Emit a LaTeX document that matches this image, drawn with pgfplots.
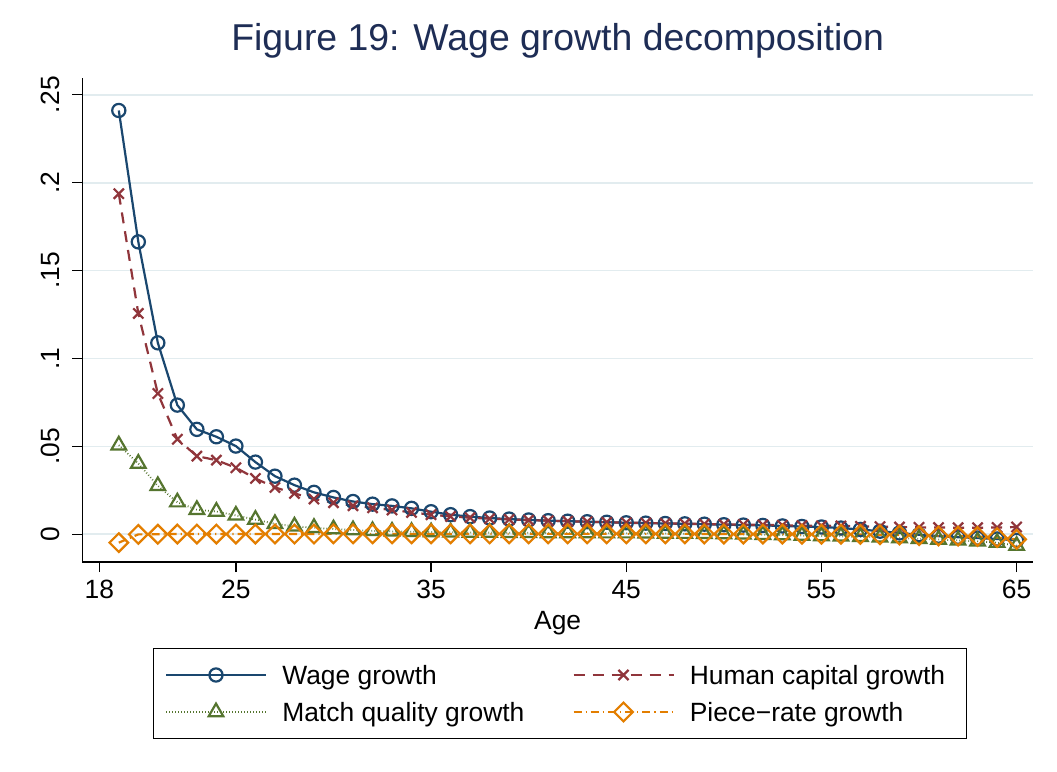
\documentclass[border=0pt]{standalone}
\usepackage{pgfplots}
\pgfplotsset{compat=1.18}
\usepackage{pgfplotstable}
\usepackage{fontspec}
\setmainfont{Liberation Sans}
\definecolor{snavy}{RGB}{26,71,111}
\definecolor{smaroon}{RGB}{144,53,59}
\definecolor{sgreen}{RGB}{85,117,47}
\definecolor{sorange}{RGB}{227,126,0}
\definecolor{stitle}{RGB}{30,45,85}
\definecolor{sgrid}{RGB}{226,236,239}
\pgfplotstableread{
age w h m p
19 0.2410 0.1937 0.0507 -0.0047
20 0.1663 0.1256 0.0403 0.0000
21 0.1089 0.0801 0.0276 0.0001
22 0.0735 0.0541 0.0183 0.0002
23 0.0597 0.0445 0.0140 0.0002
24 0.0555 0.0422 0.0130 0.0002
25 0.0502 0.0379 0.0108 0.0002
26 0.0411 0.0318 0.0084 0.0002
27 0.0331 0.0267 0.0060 0.0002
28 0.0280 0.0233 0.0046 0.0002
29 0.0239 0.0201 0.0038 0.0002
30 0.0210 0.0180 0.0030 0.0003
31 0.0187 0.0163 0.0025 0.0003
32 0.0172 0.0151 0.0020 0.0003
33 0.0162 0.0139 0.0017 0.0003
34 0.0148 0.0125 0.0015 0.0003
35 0.0129 0.0112 0.0013 0.0003
36 0.0112 0.0102 0.0012 0.0003
37 0.0101 0.0095 0.0011 0.0003
38 0.0093 0.0089 0.0010 0.0003
39 0.0087 0.0085 0.0009 0.0003
40 0.0082 0.0081 0.0009 0.0003
41 0.0078 0.0078 0.0008 0.0003
42 0.0075 0.0075 0.0008 0.0003
43 0.0072 0.0072 0.0008 0.0003
44 0.0069 0.0069 0.0007 0.0003
45 0.0066 0.0067 0.0007 0.0003
46 0.0064 0.0065 0.0006 0.0003
47 0.0062 0.0063 0.0005 0.0003
48 0.0060 0.0061 0.0004 0.0003
49 0.0058 0.0059 0.0003 0.0002
50 0.0055 0.0057 0.0002 0.0002
51 0.0053 0.0056 0.0000 0.0002
52 0.0051 0.0054 -0.0002 0.0002
53 0.0048 0.0052 -0.0004 0.0002
54 0.0045 0.0050 -0.0007 0.0001
55 0.0042 0.0049 -0.0009 0.0001
56 0.0036 0.0048 -0.0011 0.0001
57 0.0028 0.0046 -0.0014 0.0000
58 0.0018 0.0044 -0.0017 -0.0002
59 0.0008 0.0042 -0.0021 -0.0004
60 -0.0002 0.0040 -0.0025 -0.0007
61 -0.0010 0.0039 -0.0029 -0.0009
62 -0.0016 0.0038 -0.0034 -0.0010
63 -0.0021 0.0038 -0.0039 -0.0012
64 -0.0026 0.0039 -0.0047 -0.0018
65 -0.0034 0.0042 -0.0064 -0.0028
}\datatable
\begin{document}
\begin{tikzpicture}
\useasboundingbox (-41.15pt,-105pt) rectangle (487.35pt,281pt);
\fill[white] (-41.15pt,-105pt) rectangle (487.35pt,281pt);
\begin{axis}[
  at={(0pt,0pt)}, anchor=south west,
  scale only axis, width=475.35pt, height=241.85pt,
  xmin=17.13, xmax=65.84, ymin=-0.0157, ymax=0.2593,
  axis x line*=bottom, axis y line*=left,
  axis line style={line width=0.65pt, -, black},
  xtick={18,25,35,45,55,65}, xticklabels={18,25,35,45,55,65},
  ytick={0,0.05,0.1,0.15,0.2,0.25}, yticklabels={0,.05,.1,.15,.2,.25},
  tick align=outside, major tick length=5pt,
  tick style={line width=0.65pt, black},
  /pgf/number format/assume math mode=true,
  ymajorgrids, grid style={sgrid, line width=0.9pt},
  ticklabel style={font=\fontsize{13.2}{15}\selectfont},
  xticklabel style={anchor=base, inner sep=0pt, yshift=-13.15pt},
  yticklabel style={xshift=-6.5pt, rotate=90, anchor=base, inner sep=0pt},
  title={Figure 19: Wage growth decomposition},
  title style={at={(axis description cs:0.5,1.0323)}, anchor=base, inner sep=0pt,
    font=\fontsize{18.7}{22}\selectfont, text=stitle},
  xlabel={Age},
  xlabel style={at={(axis description cs:0.5,-0.1396)}, anchor=base, inner sep=0pt,
    font=\fontsize{13.2}{15}\selectfont},
  legend columns=2,
  legend cell align=left,
  legend image code/.code={\draw[mark repeat=2,mark phase=2] plot coordinates {(0pt,0pt) (25pt,0pt) (50pt,0pt)};},
  legend style={at={(axis description cs:0.5025,-0.1778)}, anchor=north, draw=black, line width=0.5pt,
    inner xsep=5.5pt, inner ysep=5.5pt, row sep=3pt,
    font=\fontsize{13.2}{15}\selectfont,
    nodes={inner sep=0pt, text height=12.5pt, text depth=3pt},
    /tikz/every odd column/.style={column sep=7.6pt},
    /tikz/every even column/.style={column sep=24pt}},
]
\addplot[snavy, line width=1.1pt, mark=o, mark size=3.3pt, mark options={solid, line width=1.1pt}]
  table[x=age,y=w]{\datatable};
\addlegendentry{Wage growth}
\addplot[smaroon, line width=1.1pt, dash pattern=on 5.5pt off 4pt, mark=x, mark size=3.6pt, mark options={solid, line width=1.1pt}]
  table[x=age,y=h]{\datatable};
\addlegendentry{Human capital growth\hspace*{5pt}}
\addplot[sgreen, line width=0.9pt, dash pattern=on 0.4pt off 1.1pt, mark=triangle, mark size=4.2pt, mark options={solid, line width=1.1pt}]
  table[x=age,y=m]{\datatable};
\addlegendentry{Match quality growth}
\addplot[sorange, line width=1.1pt, dash pattern=on 4pt off 2pt on 0.6pt off 2pt, mark=square, mark size=3.3pt, mark options={solid, rotate=45, line width=1.1pt}]
  table[x=age,y=p]{\datatable};
\addlegendentry{Piece−rate growth}
\end{axis}
\end{tikzpicture}
\end{document}
